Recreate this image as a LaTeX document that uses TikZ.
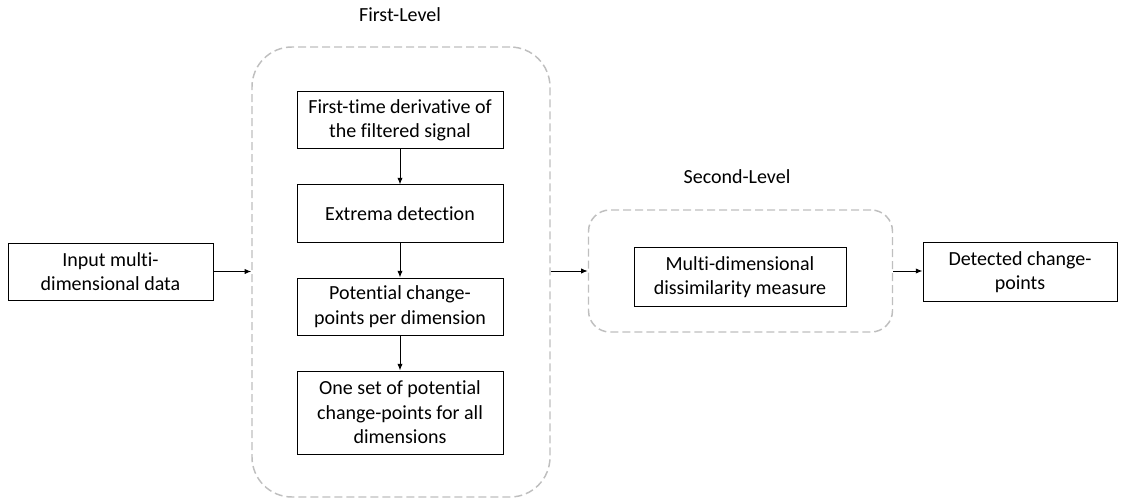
\documentclass[tikz,border=0pt]{standalone}
\usepackage{fontspec}
\setmainfont{Carlito}[Ligatures=NoCommon]
\usetikzlibrary{arrows.meta,positioning}
\definecolor{dashgray}{RGB}{191,191,191}

\begin{document}
\begin{tikzpicture}[
  x=0.75pt, y=-0.75pt,
  procbox/.style={draw, rectangle, line width=0.75pt, minimum width=154.5pt, minimum height=42.75pt,
    align=center, inner sep=2pt, font=\fontsize{15}{18.3}\selectfont},
  levelbox/.style={draw=dashgray, line width=1.1pt, dash pattern=on 6pt off 3pt, rectangle},
  flow/.style={-{Latex[length=5pt,width=4pt]}, line width=0.75pt},
  levellabel/.style={font=\fontsize{15}{18.3}\selectfont}
]
\useasboundingbox (0,0) rectangle (1121,499);

% levels
\node[levelbox, rounded corners=30pt, minimum width=223.5pt, minimum height=337.5pt] (first) at (401,272) {};
\node[levellabel] (firstlbl) at (400,15) {First-Level};
\node[levelbox, rounded corners=16pt, minimum width=228pt, minimum height=91.5pt] (second) at (740.5,271) {};
\node[levellabel] (secondlbl) at (737,177) {Second-Level};

% first level steps
\node[procbox] (deriv) at (400,120.5) {First-time derivative of\\the filtered signal};
\node[procbox, below=26.25pt of deriv] (extrema) {Extrema detection};
\node[procbox, below=26.25pt of extrema] (perdim) {Potential change-\\points per dimension};
\node[procbox, below=26.25pt of perdim, minimum height=62.25pt] (oneset) {One set of potential\\change-points for all\\dimensions};

\draw[flow] (deriv) -- (extrema);
\draw[flow] (extrema) -- (perdim);
\draw[flow] (perdim) -- (oneset);

% input, second level, output
\node[procbox, minimum width=153.75pt] (input) at (110.5,271.5) {Input multi-\\dimensional data};
\node[procbox, minimum width=159pt, minimum height=44.25pt] (dissim) at (740,277) {Multi-dimensional\\dissimilarity measure};
\node[procbox, minimum width=145.5pt, minimum height=44.25pt] (output) at (1020,272) {Detected change-\\points};

\draw[flow] (input.east) -- (input.east -| first.west);
\draw[flow] (first.east |- second.west) -- (second.west);
\draw[flow] (second.east) -- (second.east -| output.west);
\end{tikzpicture}
\end{document}
